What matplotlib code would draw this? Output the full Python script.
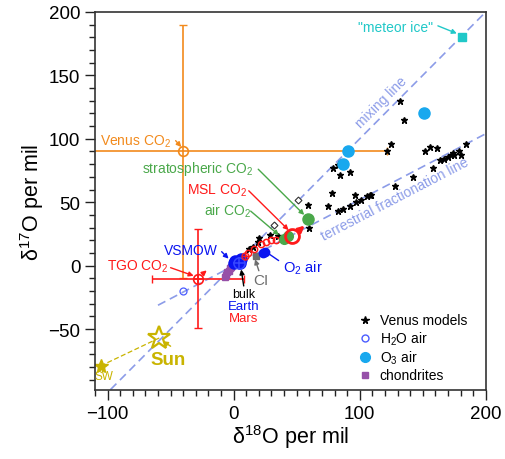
import matplotlib
matplotlib.use("Agg")
import matplotlib.pyplot as plt
from matplotlib.lines import Line2D
from matplotlib.ticker import MultipleLocator

plt.rcParams['font.family'] = ['Liberation Sans', 'DejaVu Sans']
plt.rcParams['mathtext.fontset'] = 'custom'
plt.rcParams['mathtext.rm'] = 'Liberation Sans'
plt.rcParams['mathtext.it'] = 'Liberation Sans:italic'

# colours
ORANGE = '#f28a1c'
GREEN = '#4aa84a'
RED = '#ff1a1a'
BLUE = '#0a14f0'
CYAN = '#18a8ee'
TEAL = '#20c8c8'
GOLD = '#c9b400'
PURPLE = '#9650a8'
GREY = '#6e6e6e'
LINEBLUE = '#8c9ce8'

# data (d18O, d17O per mil)
venus_x = [131.7, 135, 125, 122, 155.6, 161, 152, 184, 163.5, 167, 170, 172, 174, 175,
           179, 180, 158, 142, 128, 85, 82.5, 78.6, 84, 92, 77.8, 96, 106, 108, 109,
           100.8, 96.8, 92, 87, 82.5, 74.6, 58.7, 60, 20, 19, 29, 35, 12, 15]
venus_y = [130, 115, 96, 90, 93.7, 93, 90, 96, 83, 84, 86, 87, 89, 87,
           90.5, 87, 77, 70, 63, 82, 79.6, 77, 71.5, 74, 57, 56, 55, 56, 56,
           51.6, 50, 47, 45, 43, 47, 47.6, 30, 21.4, 19, 24, 23, 13.5, 15]
h2o_x = [-40]
h2o_y = [-20]
vsmow_blob_x = [0, 2, 4, 6, 1, 5, 3]
vsmow_blob_y = [2, 3, 4, 5, 4, 2, 3]
o3_x = [151, 91, 87]
o3_y = [120, 90, 80]
chond_x = [-7, -6, -5, -4, -3, -2]
chond_y = [-9, -7, -5, -4, -2, -1]
mars_x = [11, 16, 21.4, 25.4, 29.4, 33.3]
mars_y = [10.3, 13.5, 16.7, 19, 20, 20.6]
o2_x = [23, 25]
o2_y = [10, 11]
airco2_x = [40, 43]
airco2_y = [21, 23]
strat_x, strat_y = 59, 37
ci_x, ci_y = 17.5, 8
hollow_x = [32, 51]
hollow_y = [32, 52]
earth_x, earth_y = 4, 2.4
mbulk_x, mbulk_y = 9, 8
venus_co2 = (-40, 90, 162, 100)
tgo_co2 = (-28.6, -10.3, 36.5, 39)
msl_x, msl_y = 46, 23
meteor_x, meteor_y = 181, 180
sun_x, sun_y = -59, -57
sw_x, sw_y = -105.5, -79
mix_x = [-120, 210]
mix_slope = 1.0
tfl_x = [-60, 210]
tfl_slope = 0.52

fig = plt.figure(figsize=(5.05, 4.6), dpi=100)
ax = fig.add_axes([0.188, 0.15, 0.774, 0.822])

# reference lines
ax.plot(mix_x, [mix_slope * v for v in mix_x], '--', color=LINEBLUE, lw=1.2, dashes=(5, 3))
ax.plot(tfl_x, [tfl_slope * v for v in tfl_x], '--', color=LINEBLUE, lw=1.2, dashes=(5, 3))
ax.plot([sw_x, sun_x], [sw_y, sun_y], '--', color=GOLD, lw=0.9, dashes=(4, 2))

# CO2 measurements with error bars
vx, vy, vxe, vye = venus_co2
ax.errorbar(vx, vy, xerr=vxe, yerr=vye, fmt='none', ecolor=ORANGE, elinewidth=1.2, capsize=3)
ax.plot(vx, vy, 'o', mfc='white', mec=ORANGE, ms=7, mew=1.2)
ax.plot(vx, vy, '+', color=ORANGE, ms=7, mew=1.2)
tx, ty, txe, tye = tgo_co2
ax.errorbar(tx, ty, xerr=txe, yerr=tye, fmt='none', ecolor=RED, elinewidth=1.2, capsize=3)
ax.plot(tx, ty, 'o', mfc='none', mec=RED, ms=7, mew=1.2)
ax.plot(tx, ty, '+', color=RED, ms=7, mew=1.2)
ax.annotate('', xy=(tx + 9, ty + 8), xytext=(tx + 3, ty + 3),
            arrowprops=dict(arrowstyle='-|>', color=RED, lw=1.2, mutation_scale=7))

# points
ax.plot(venus_x, venus_y, '*', color='black', ms=4.8, ls='none')
ax.plot(hollow_x, hollow_y, 'D', mfc='white', mec='#333333', ms=3.5, mew=0.8, ls='none')
ax.plot(chond_x, chond_y, 's', color=PURPLE, ms=5, ls='none')
ax.plot(vsmow_blob_x, vsmow_blob_y, 'o', color=BLUE, ms=8, ls='none')
ax.plot(earth_x, earth_y, 'o', mfc='none', mec='#3848ff', ms=8, mew=1.1)
ax.plot(earth_x, earth_y, '+', color='#3848ff', ms=8, mew=1.1)
ax.plot(mbulk_x, mbulk_y, 'o', mfc='none', mec=RED, ms=5, mew=1)
ax.plot(mbulk_x, mbulk_y, '+', color=RED, ms=5, mew=1)
ax.plot(ci_x, ci_y, 's', color=GREY, ms=5)
ax.plot(mars_x, mars_y, 'o', mfc='none', mec=RED, ms=4.5, mew=1.1, ls='none')
ax.plot(o2_x, o2_y, 'o', color=BLUE, ms=6, ls='none')
ax.plot(airco2_x, airco2_y, 'o', color=GREEN, ms=7, ls='none')
ax.plot(strat_x, strat_y, 'o', color=GREEN, ms=8)
ax.plot(h2o_x, h2o_y, 'o', mfc='none', mec='#4a5cff', ms=5, mew=0.9, ls='none')
ax.plot(o3_x, o3_y, 'o', color=CYAN, ms=8, ls='none')
ax.plot(meteor_x, meteor_y, 's', color=TEAL, ms=6)
ax.plot(msl_x, msl_y, 'o', mfc='none', mec=RED, ms=10, mew=2)
ax.annotate('', xy=(msl_x + 12, msl_y + 10), xytext=(msl_x + 4, msl_y + 3),
            arrowprops=dict(arrowstyle='-|>', color=RED, lw=2, mutation_scale=9))
ax.plot(sw_x, sw_y, '*', color=GOLD, ms=10)
ax.plot(sun_x, sun_y, '*', mfc='none', mec=GOLD, ms=17, mew=1.6)

# labels with arrows
def label(text, xy, tip, tail, color, size=10, **kw):
    ax.text(xy[0], xy[1], text, color=color, fontsize=size, ha=kw.pop('ha', 'center'),
            va='center', **kw)
    if tip is not None:
        ax.annotate('', xy=tip, xytext=tail,
                    arrowprops=dict(arrowstyle='-|>', color=color, lw=1,
                                    mutation_scale=7, shrinkA=0, shrinkB=0))

label('Venus CO$_2$', (-50, 98.5), (-41.5, 93.5), (-46, 98.5), ORANGE, ha='right')
label('stratospheric CO$_2$', (-28.6, 77), (56, 40), (19.5, 76), GREEN)
label('MSL CO$_2$', (-13, 60), (43.6, 28), (12, 59), RED)
label('air CO$_2$', (-5, 44), (36, 24), (13.5, 43), GREEN)
label('VSMOW', (-34, 12), (-4, 5.5), (-9.5, 11), BLUE)
label('TGO CO$_2$', (-76, 0), (-31.7, -8), (-50, -1.6), RED)
label('bulk', (8, -22), (6, -3), (8, -16), 'black', size=9)
label('Earth', (8, -31.5), None, None, BLUE, size=9.5)
label('Mars', (8, -41.5), None, None, RED, size=9.5)
label('CI', (21.5, -11), (17, 5), (20, -4), GREY, size=11)
label('O$_2$ air', (39, -1), (24, 12), (35.7, 4), BLUE, size=10.5, ha='left')
label('"meteor ice"', (128.5, 188), (177, 183), (162, 189), TEAL)
label('Sun', (-51.6, -74), (-56, -59.5), (-50, -63.5), GOLD, size=13.5, fontweight='bold')
label('SW', (-103, -87), None, None, GOLD, size=8.5)
ax.text(117.5, 129, 'mixing line', color=LINEBLUE, fontsize=10, rotation=45,
        rotation_mode='anchor', ha='center', va='center')
ax.text(128, 53, 'terrestrial fractionation line', color=LINEBLUE, fontsize=10,
        rotation=27.5, rotation_mode='anchor', ha='center', va='center')

# axes styling
ax.set_xlim(-110, 200)
ax.set_ylim(-98, 200)
ax.xaxis.set_major_locator(MultipleLocator(100))
ax.xaxis.set_minor_locator(MultipleLocator(10))
ax.yaxis.set_major_locator(MultipleLocator(50))
ax.yaxis.set_minor_locator(MultipleLocator(10))
ax.tick_params(which='both', direction='out', top=False, right=False, width=1, colors='#222222',
               labelsize=13.5, labelcolor='black')
ax.tick_params(which='major', length=7)
ax.tick_params(which='minor', length=4)
for s in ax.spines.values():
    s.set_linewidth(1.2)
    s.set_color('#333333')
ax.set_xlabel('δ$^{18}$O per mil', fontsize=15.5)
ax.set_ylabel('δ$^{17}$O per mil', fontsize=15.5)
ax.xaxis.set_label_coords(0.5, -0.085)
ax.yaxis.set_label_coords(-0.125, 0.5)

handles = [
    Line2D([], [], marker='*', color='black', ls='none', ms=5.5),
    Line2D([], [], marker='o', mfc='none', mec='#4a5cff', ls='none', ms=5),
    Line2D([], [], marker='o', color=CYAN, ls='none', ms=7),
    Line2D([], [], marker='s', color=PURPLE, ls='none', ms=5),
]
ax.legend(handles, ['Venus models', 'H$_2$O air', 'O$_3$ air', 'chondrites'],
          loc='lower left', bbox_to_anchor=(0.672, 0.02), frameon=False, fontsize=10,
          handlelength=1.0, handletextpad=0.6, labelspacing=0.15, borderpad=0,
          borderaxespad=0)

fig.savefig('out.png', dpi=100)
